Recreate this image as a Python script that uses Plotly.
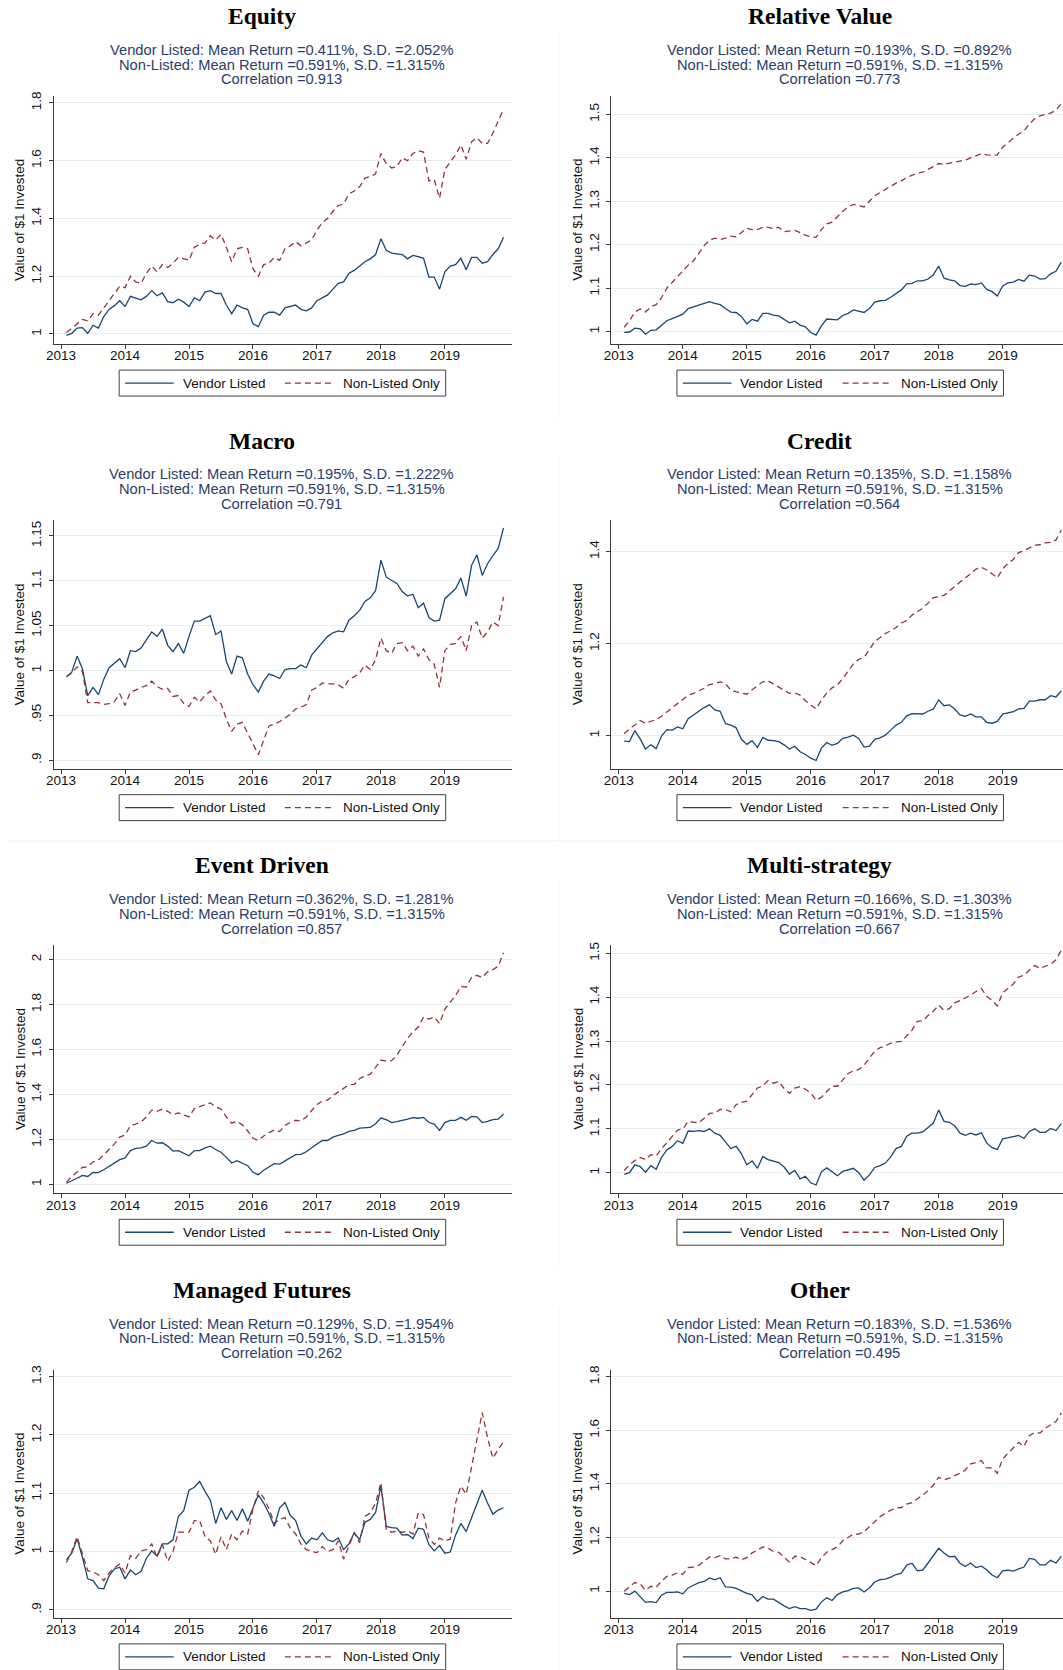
import pandas as pd
import plotly.graph_objects as go

# ---------------------------------------------------------------------------
# Monthly cumulative value of $1, Feb 2013 - Dec 2019
# ---------------------------------------------------------------------------
months = pd.date_range("2013-02-01", "2019-12-01", freq="MS")
x_years = list(months.year + (months.month - 1) / 12)

strategies = ["Equity", "Relative Value", "Macro", "Credit",
              "Event Driven", "Multi-strategy", "Managed Futures", "Other"]
vendor_mean = [0.411, 0.193, 0.195, 0.135, 0.362, 0.166, 0.129, 0.183]
vendor_sd = [2.052, 0.892, 1.222, 1.158, 1.281, 1.303, 1.954, 1.536]
nonlisted_mean = 0.591
nonlisted_sd = 1.315
correlation = [0.913, 0.773, 0.791, 0.564, 0.857, 0.667, 0.262, 0.495]
series_names = ["Vendor Listed", "Non-Listed Only"]

equity_vendor = [
    0.995, 1.002, 1.020, 1.022, 1.002, 1.030, 1.020, 1.060, 1.085, 1.098, 1.115,
    1.095, 1.130, 1.125, 1.118, 1.130, 1.150, 1.132, 1.142, 1.112, 1.108, 1.120, 1.110,
    1.095, 1.125, 1.115, 1.145, 1.150, 1.140, 1.140, 1.100, 1.070, 1.100, 1.090, 1.085,
    1.035, 1.025, 1.065, 1.075, 1.075, 1.065, 1.090, 1.095, 1.100, 1.085, 1.080, 1.090,
    1.115, 1.125, 1.135, 1.155, 1.175, 1.180, 1.210, 1.220, 1.235, 1.250, 1.260, 1.275,
    1.330, 1.290, 1.280, 1.278, 1.275, 1.260, 1.272, 1.268, 1.262, 1.197, 1.197, 1.155,
    1.215, 1.235, 1.240, 1.262, 1.222, 1.265, 1.265, 1.245, 1.250, 1.275, 1.295, 1.335]
equity_nonlisted = [
    1.005, 1.020, 1.035, 1.050, 1.045, 1.070, 1.065, 1.090, 1.115, 1.140, 1.165,
    1.160, 1.200, 1.180, 1.175, 1.210, 1.235, 1.215, 1.240, 1.230, 1.245, 1.265, 1.260,
    1.255, 1.300, 1.310, 1.315, 1.340, 1.325, 1.345, 1.300, 1.250, 1.295, 1.300, 1.295,
    1.225, 1.200, 1.240, 1.245, 1.265, 1.255, 1.295, 1.305, 1.320, 1.305, 1.315, 1.325,
    1.360, 1.385, 1.400, 1.425, 1.445, 1.450, 1.485, 1.495, 1.510, 1.540, 1.545, 1.555,
    1.625, 1.590, 1.575, 1.580, 1.610, 1.600, 1.625, 1.635, 1.630, 1.530, 1.535, 1.470,
    1.570, 1.595, 1.620, 1.655, 1.605, 1.665, 1.680, 1.660, 1.660, 1.695, 1.740, 1.780]

relval_vendor = [
    0.998, 0.999, 1.008, 1.006, 0.994, 1.003, 1.004, 1.015, 1.025, 1.030, 1.035,
    1.040, 1.053, 1.057, 1.061, 1.065, 1.069, 1.065, 1.062, 1.053, 1.045, 1.044, 1.035,
    1.018, 1.028, 1.024, 1.042, 1.042, 1.038, 1.036, 1.029, 1.020, 1.024, 1.015, 1.011,
    0.998, 0.992, 1.013, 1.029, 1.028, 1.027, 1.037, 1.042, 1.050, 1.047, 1.044, 1.053,
    1.068, 1.071, 1.072, 1.079, 1.088, 1.096, 1.110, 1.111, 1.117, 1.117, 1.121, 1.131,
    1.151, 1.123, 1.119, 1.117, 1.106, 1.104, 1.110, 1.108, 1.112, 1.097, 1.092, 1.082,
    1.105, 1.112, 1.114, 1.120, 1.116, 1.130, 1.128, 1.121, 1.122, 1.133, 1.139, 1.160]
relval_nonlisted = [
    1.010, 1.025, 1.045, 1.052, 1.045, 1.057, 1.062, 1.078, 1.100, 1.113, 1.125,
    1.140, 1.153, 1.163, 1.180, 1.198, 1.210, 1.215, 1.212, 1.215, 1.220, 1.218, 1.228,
    1.238, 1.235, 1.235, 1.240, 1.240, 1.237, 1.240, 1.230, 1.232, 1.233, 1.228, 1.222,
    1.218, 1.217, 1.235, 1.248, 1.252, 1.265, 1.277, 1.287, 1.293, 1.290, 1.287, 1.300,
    1.313, 1.320, 1.327, 1.335, 1.342, 1.347, 1.355, 1.360, 1.365, 1.367, 1.373, 1.380,
    1.387, 1.385, 1.388, 1.390, 1.393, 1.395, 1.400, 1.405, 1.410, 1.407, 1.406, 1.407,
    1.425, 1.435, 1.445, 1.455, 1.462, 1.478, 1.490, 1.497, 1.500, 1.503, 1.510, 1.525]

macro_vendor = [
    0.993, 0.998, 1.016, 1.002, 0.972, 0.981, 0.973, 0.990, 1.003, 1.008, 1.013,
    1.003, 1.022, 1.021, 1.025, 1.034, 1.043, 1.038, 1.046, 1.028, 1.021, 1.030, 1.019,
    1.038, 1.055, 1.055, 1.058, 1.061, 1.040, 1.044, 1.010, 0.996, 1.016, 1.014, 0.996,
    0.984, 0.976, 0.988, 0.996, 0.994, 0.991, 1.001, 1.002, 1.002, 1.006, 1.003, 1.017,
    1.024, 1.031, 1.038, 1.042, 1.044, 1.043, 1.056, 1.061, 1.067, 1.077, 1.081, 1.089,
    1.123, 1.104, 1.100, 1.097, 1.088, 1.083, 1.085, 1.070, 1.075, 1.059, 1.055, 1.056,
    1.080, 1.086, 1.091, 1.103, 1.083, 1.117, 1.129, 1.106, 1.119, 1.128, 1.136, 1.159]
macro_nonlisted = [
    0.993, 0.997, 1.004, 0.999, 0.964, 0.964, 0.964, 0.962, 0.963, 0.965, 0.974,
    0.961, 0.976, 0.978, 0.981, 0.983, 0.988, 0.982, 0.979, 0.980, 0.971, 0.972, 0.963,
    0.960, 0.970, 0.965, 0.972, 0.977, 0.967, 0.963, 0.946, 0.932, 0.940, 0.942, 0.930,
    0.918, 0.906, 0.922, 0.938, 0.940, 0.943, 0.947, 0.951, 0.957, 0.959, 0.962, 0.978,
    0.981, 0.986, 0.985, 0.985, 0.984, 0.980, 0.990, 0.993, 0.997, 1.006, 1.001, 1.012,
    1.036, 1.022, 1.019, 1.030, 1.031, 1.022, 1.027, 1.016, 1.024, 1.012, 1.007, 0.981,
    1.022, 1.029, 1.030, 1.038, 1.022, 1.050, 1.054, 1.036, 1.043, 1.054, 1.050, 1.082]

credit_vendor = [
    0.988, 0.987, 1.011, 0.993, 0.971, 0.980, 0.972, 0.999, 1.013, 1.012, 1.019,
    1.015, 1.037, 1.045, 1.054, 1.061, 1.067, 1.056, 1.053, 1.026, 1.023, 1.017, 0.992,
    0.981, 0.989, 0.974, 0.996, 0.990, 0.989, 0.987, 0.980, 0.971, 0.977, 0.965, 0.959,
    0.951, 0.946, 0.973, 0.985, 0.979, 0.983, 0.994, 0.997, 1.001, 0.994, 0.975, 0.977,
    0.992, 0.995, 1.001, 1.012, 1.023, 1.029, 1.043, 1.048, 1.048, 1.047, 1.053, 1.058,
    1.078, 1.065, 1.067, 1.058, 1.045, 1.042, 1.047, 1.041, 1.041, 1.029, 1.027, 1.031,
    1.047, 1.049, 1.052, 1.058, 1.059, 1.075, 1.075, 1.078, 1.078, 1.087, 1.084, 1.097]
credit_nonlisted = [
    1.004, 1.015, 1.023, 1.033, 1.027, 1.031, 1.035, 1.042, 1.051, 1.060, 1.068,
    1.078, 1.088, 1.092, 1.097, 1.103, 1.111, 1.113, 1.117, 1.113, 1.099, 1.095, 1.093,
    1.090, 1.100, 1.109, 1.117, 1.119, 1.112, 1.105, 1.098, 1.092, 1.093, 1.088, 1.076,
    1.066, 1.058, 1.077, 1.093, 1.104, 1.110, 1.124, 1.140, 1.156, 1.166, 1.170, 1.187,
    1.205, 1.213, 1.222, 1.228, 1.235, 1.245, 1.250, 1.262, 1.270, 1.277, 1.288, 1.300,
    1.302, 1.305, 1.315, 1.325, 1.334, 1.343, 1.352, 1.362, 1.366, 1.360, 1.352, 1.343,
    1.362, 1.375, 1.383, 1.398, 1.402, 1.408, 1.414, 1.415, 1.419, 1.420, 1.425, 1.447]

event_vendor = [
    1.005, 1.015, 1.027, 1.040, 1.035, 1.053, 1.052, 1.065, 1.080, 1.095, 1.110,
    1.118, 1.150, 1.160, 1.162, 1.170, 1.195, 1.183, 1.185, 1.170, 1.148, 1.150, 1.140,
    1.127, 1.150, 1.150, 1.162, 1.170, 1.155, 1.143, 1.120, 1.095, 1.105, 1.093, 1.083,
    1.054, 1.043, 1.063, 1.078, 1.092, 1.090, 1.104, 1.120, 1.132, 1.133, 1.145, 1.163,
    1.180, 1.195, 1.195, 1.210, 1.218, 1.225, 1.236, 1.240, 1.250, 1.253, 1.253, 1.270,
    1.295, 1.288, 1.275, 1.279, 1.283, 1.290, 1.297, 1.294, 1.298, 1.275, 1.268, 1.240,
    1.275, 1.285, 1.285, 1.298, 1.285, 1.302, 1.300, 1.275, 1.280, 1.288, 1.290, 1.313]
event_nonlisted = [
    1.010, 1.035, 1.055, 1.075, 1.078, 1.100, 1.108, 1.130, 1.155, 1.180, 1.210,
    1.220, 1.260, 1.268, 1.278, 1.300, 1.330, 1.325, 1.335, 1.325, 1.310, 1.318, 1.310,
    1.300, 1.337, 1.345, 1.352, 1.362, 1.345, 1.335, 1.300, 1.272, 1.280, 1.265, 1.238,
    1.205, 1.195, 1.215, 1.230, 1.242, 1.235, 1.262, 1.275, 1.285, 1.282, 1.300, 1.328,
    1.355, 1.370, 1.375, 1.395, 1.410, 1.425, 1.443, 1.445, 1.470, 1.483, 1.490, 1.520,
    1.553, 1.548, 1.550, 1.575, 1.610, 1.650, 1.678, 1.700, 1.745, 1.735, 1.745, 1.715,
    1.780, 1.810, 1.840, 1.880, 1.878, 1.920, 1.930, 1.920, 1.945, 1.955, 1.970, 2.030]

multi_vendor = [
    0.996, 1.000, 1.018, 1.014, 1.001, 1.016, 1.008, 1.035, 1.052, 1.060, 1.073,
    1.067, 1.095, 1.094, 1.096, 1.094, 1.100, 1.090, 1.085, 1.070, 1.055, 1.060, 1.043,
    1.018, 1.027, 1.010, 1.037, 1.030, 1.027, 1.023, 1.013, 0.997, 1.005, 0.986, 0.992,
    0.977, 0.972, 1.002, 1.011, 1.001, 0.993, 1.003, 1.007, 1.010, 1.000, 0.983, 0.995,
    1.012, 1.016, 1.022, 1.036, 1.055, 1.060, 1.083, 1.090, 1.090, 1.093, 1.102, 1.113,
    1.143, 1.117, 1.115, 1.107, 1.090, 1.085, 1.090, 1.086, 1.091, 1.068, 1.057, 1.053,
    1.077, 1.080, 1.082, 1.085, 1.078, 1.094, 1.100, 1.092, 1.092, 1.101, 1.096, 1.112]
multi_nonlisted = [
    1.005, 1.018, 1.028, 1.035, 1.030, 1.041, 1.038, 1.055, 1.068, 1.083, 1.097,
    1.100, 1.117, 1.115, 1.114, 1.124, 1.135, 1.136, 1.144, 1.144, 1.139, 1.155, 1.160,
    1.163, 1.178, 1.193, 1.198, 1.210, 1.204, 1.208, 1.192, 1.181, 1.193, 1.196, 1.190,
    1.182, 1.165, 1.172, 1.185, 1.197, 1.197, 1.212, 1.226, 1.232, 1.235, 1.245, 1.260,
    1.277, 1.285, 1.289, 1.295, 1.298, 1.299, 1.312, 1.325, 1.345, 1.346, 1.358, 1.368,
    1.382, 1.370, 1.374, 1.387, 1.392, 1.398, 1.405, 1.413, 1.420, 1.402, 1.393, 1.380,
    1.410, 1.420, 1.430, 1.446, 1.450, 1.462, 1.472, 1.466, 1.470, 1.475, 1.485, 1.507]

futures_vendor = [
    0.986, 0.997, 1.022, 0.990, 0.953, 0.950, 0.937, 0.936, 0.958, 0.970, 0.973,
    0.953, 0.968, 0.960, 0.966, 0.988, 1.001, 0.992, 1.013, 1.013, 1.020, 1.060, 1.070,
    1.105, 1.110, 1.120, 1.103, 1.088, 1.048, 1.075, 1.055, 1.070, 1.053, 1.073, 1.052,
    1.075, 1.097, 1.083, 1.065, 1.043, 1.075, 1.084, 1.062, 1.053, 1.026, 1.013, 1.023,
    1.020, 1.032, 1.020, 1.017, 1.023, 1.003, 1.013, 1.032, 1.020, 1.050, 1.055, 1.067,
    1.112, 1.043, 1.041, 1.040, 1.028, 1.029, 1.022, 1.040, 1.038, 1.012, 1.001, 1.010,
    0.997, 0.999, 1.028, 1.048, 1.034, 1.057, 1.082, 1.105, 1.083, 1.064, 1.071, 1.075]
futures_nonlisted = [
    0.981, 1.000, 1.025, 0.995, 0.967, 0.965, 0.960, 0.950, 0.963, 0.972, 0.978,
    0.963, 0.993, 0.988, 1.001, 1.003, 1.013, 0.990, 1.012, 0.983, 1.000, 1.033, 1.033,
    1.033, 1.053, 1.053, 1.025, 1.018, 0.995, 1.025, 1.003, 1.030, 1.020, 1.035, 1.030,
    1.073, 1.104, 1.092, 1.073, 1.048, 1.055, 1.058, 1.040, 1.030, 1.013, 1.003, 1.000,
    0.998, 1.008, 1.000, 1.003, 1.018, 0.987, 1.008, 1.032, 1.015, 1.060, 1.066, 1.083,
    1.118, 1.037, 1.033, 1.035, 1.033, 1.035, 1.030, 1.066, 1.063, 1.023, 1.012, 1.023,
    1.018, 1.021, 1.083, 1.112, 1.098, 1.147, 1.195, 1.238, 1.195, 1.160, 1.175, 1.188]

other_vendor = [
    0.992, 0.987, 1.000, 0.978, 0.958, 0.961, 0.957, 0.985, 0.995, 0.995, 0.997,
    0.990, 1.012, 1.022, 1.032, 1.036, 1.049, 1.042, 1.050, 1.016, 1.015, 1.010, 1.000,
    0.992, 0.986, 0.962, 0.980, 0.970, 0.970, 0.957, 0.945, 0.935, 0.942, 0.935, 0.935,
    0.928, 0.933, 0.960, 0.975, 0.965, 0.987, 0.997, 1.002, 1.010, 1.012, 0.997, 1.012,
    1.034, 1.043, 1.045, 1.052, 1.062, 1.067, 1.097, 1.104, 1.076, 1.078, 1.105, 1.132,
    1.160, 1.142, 1.128, 1.130, 1.104, 1.092, 1.105, 1.088, 1.093, 1.080, 1.060, 1.050,
    1.076, 1.078, 1.075, 1.083, 1.090, 1.122, 1.119, 1.098, 1.098, 1.115, 1.105, 1.130]
other_nonlisted = [
    1.000, 1.015, 1.032, 1.027, 1.003, 1.018, 1.014, 1.038, 1.055, 1.060, 1.068,
    1.063, 1.088, 1.090, 1.097, 1.110, 1.128, 1.125, 1.132, 1.120, 1.120, 1.127, 1.117,
    1.125, 1.143, 1.153, 1.165, 1.160, 1.148, 1.145, 1.125, 1.108, 1.130, 1.128, 1.118,
    1.105, 1.095, 1.125, 1.145, 1.155, 1.165, 1.188, 1.200, 1.213, 1.213, 1.222, 1.240,
    1.260, 1.278, 1.290, 1.302, 1.310, 1.312, 1.325, 1.330, 1.345, 1.358, 1.375, 1.395,
    1.425, 1.415, 1.422, 1.430, 1.440, 1.452, 1.475, 1.480, 1.487, 1.460, 1.460, 1.440,
    1.493, 1.515, 1.535, 1.555, 1.540, 1.580, 1.592, 1.590, 1.608, 1.620, 1.633, 1.665]

vendor_series = [equity_vendor, relval_vendor, macro_vendor, credit_vendor,
                 event_vendor, multi_vendor, futures_vendor, other_vendor]
nonlisted_series = [equity_nonlisted, relval_nonlisted, macro_nonlisted, credit_nonlisted,
                    event_nonlisted, multi_nonlisted, futures_nonlisted, other_nonlisted]

# y-axis ticks (values and labels) for each panel
y_tickvals = [
    [1.0, 1.2, 1.4, 1.6, 1.8],
    [1.0, 1.1, 1.2, 1.3, 1.4, 1.5],
    [0.9, 0.95, 1.0, 1.05, 1.1, 1.15],
    [1.0, 1.2, 1.4],
    [1.0, 1.2, 1.4, 1.6, 1.8, 2.0],
    [1.0, 1.1, 1.2, 1.3, 1.4, 1.5],
    [0.9, 1.0, 1.1, 1.2, 1.3],
    [1.0, 1.2, 1.4, 1.6, 1.8],
]
y_ticktext = [
    ["1", "1.2", "1.4", "1.6", "1.8"],
    ["1", "1.1", "1.2", "1.3", "1.4", "1.5"],
    [".9", ".95", "1", "1.05", "1.1", "1.15"],
    ["1", "1.2", "1.4"],
    ["1", "1.2", "1.4", "1.6", "1.8", "2"],
    ["1", "1.1", "1.2", "1.3", "1.4", "1.5"],
    [".9", "1", "1.1", "1.2", "1.3"],
    ["1", "1.2", "1.4", "1.6", "1.8"],
]
y_ranges = [
    [0.9644, 1.825], [0.971, 1.543], [0.8903, 1.1674], [0.928, 1.468],
    [0.960, 2.065], [0.953, 1.519], [0.886, 1.312], [0.900, 1.827],
]
year_ticks = [2013, 2014, 2015, 2016, 2017, 2018, 2019]

# ---------------------------------------------------------------------------
# Styling / geometry (pixels in a 1063 x 1670 page)
# ---------------------------------------------------------------------------
W, H = 1063, 1670
SANS = "Liberation Sans, Arial, sans-serif"
SERIF = "Liberation Serif, Times New Roman, serif"
BLUE = "#1a476f"
RED = "#90353b"
NOTE = "#2b3d6c"
AXIS = "#3a3a3a"
GRID = "#e6eeee"
RED_DASH = "6px,4px"

ROW_STEP = 425.6
COL_X = [-4, 558]   # horizontal placement of the left / right column
PX_PER_YEAR = 64.45


def px(xp):
    return xp / W


def py(yp):
    return 1 - yp / H


fig = go.Figure()
annotations = []
shapes = []
layout = {}

for i, name in enumerate(strategies):
    r, c = divmod(i, 2)
    base = 16 + ROW_STEP * r
    off = COL_X[c]
    left_px = 50 + off
    right_px = min(512 + off, W)
    x2013_px = 57.5 + off
    top_px, bot_px = base + 76, base + 325
    center_px = 280 + off

    n = i + 1
    xa = "x" if n == 1 else f"x{n}"
    ya = "y" if n == 1 else f"y{n}"

    fig.add_trace(go.Scatter(
        x=x_years, y=vendor_series[i], mode="lines", name=series_names[0],
        line=dict(color=BLUE, width=1.3), xaxis=xa, yaxis=ya,
        showlegend=False, hoverinfo="skip"))
    fig.add_trace(go.Scatter(
        x=x_years, y=nonlisted_series[i], mode="lines", name=series_names[1],
        line=dict(color=RED, width=1.3, dash=RED_DASH), xaxis=xa, yaxis=ya,
        showlegend=False, hoverinfo="skip"))

    x_lo = 2013 - (x2013_px - left_px) / PX_PER_YEAR
    x_hi = 2013 + (right_px - x2013_px) / PX_PER_YEAR

    layout["xaxis" if n == 1 else f"xaxis{n}"] = dict(
        domain=[px(left_px), px(right_px)], anchor=ya, range=[x_lo, x_hi],
        tickvals=year_ticks, ticktext=[str(v) for v in year_ticks],
        showgrid=False, zeroline=False, showline=True, linecolor=AXIS,
        linewidth=1, ticks="outside", ticklen=4, tickcolor=AXIS,
        ticklabelstandoff=-5,
        tickfont=dict(family=SANS, size=13.5, color="#111"), fixedrange=True)
    layout["yaxis" if n == 1 else f"yaxis{n}"] = dict(
        domain=[py(bot_px), py(top_px)], anchor=xa, range=y_ranges[i],
        tickvals=y_tickvals[i], ticktext=y_ticktext[i], tickangle=-90,
        showgrid=True, gridcolor=GRID, gridwidth=1, zeroline=False,
        showline=True, linecolor=AXIS, linewidth=1, ticks="outside",
        ticklen=4, tickcolor=AXIS, ticklabelstandoff=2,
        tickfont=dict(family=SANS, size=13.5, color="#111"), fixedrange=True)

    # panel title
    annotations.append(dict(
        text=f"<b>{name}</b>", x=px(260 + off), y=py(base - 4), xref="paper",
        yref="paper", xanchor="center", yanchor="middle", showarrow=False,
        font=dict(family=SERIF, size=23.5, color="black")))
    # summary statistics
    stat_lines = [
        f"Vendor Listed: Mean Return ={vendor_mean[i]:.3f}%, S.D. ={vendor_sd[i]:.3f}%",
        f"Non-Listed: Mean Return ={nonlisted_mean:.3f}%, S.D. ={nonlisted_sd:.3f}%",
        f"Correlation ={correlation[i]:.3f}",
    ]
    for k, line in enumerate(stat_lines):
        annotations.append(dict(
            text=line, x=px(center_px), y=py(base + 30 + 14.8 * k), xref="paper",
            yref="paper", xanchor="center", yanchor="middle", showarrow=False,
            font=dict(family=SANS, size=14.7, color=NOTE)))
    # y-axis title
    annotations.append(dict(
        text="Value of $1 Invested", x=px(16 + off), y=py((top_px + bot_px) / 2),
        xref="paper", yref="paper", xanchor="center", yanchor="middle",
        textangle=-90, showarrow=False,
        font=dict(family=SANS, size=13.5, color="#111")))

    # legend box below the panel
    lg_top, lg_bot = base + 351, base + 377
    lg_mid = (lg_top + lg_bot) / 2
    lg_left, lg_right = 116 + off, 445 + off
    shapes.append(dict(type="rect", xref="paper", yref="paper",
                       x0=px(lg_left), x1=px(min(lg_right, W - 0.5)),
                       y0=py(lg_bot), y1=py(lg_top),
                       line=dict(color="#404040", width=1), fillcolor="white"))
    for (x0, x1, tx), color, dash, label in zip(
            [(122, 171, 178), (283, 333, 340)], [BLUE, RED],
            ["solid", RED_DASH], series_names):
        shapes.append(dict(type="line", xref="paper", yref="paper",
                           x0=px(x0 + off), x1=px(x1 + off),
                           y0=py(lg_mid), y1=py(lg_mid),
                           line=dict(color=color, width=1.4, dash=dash)))
        annotations.append(dict(
            text=label, x=px(tx + off), y=py(lg_mid), xref="paper",
            yref="paper", xanchor="left", yanchor="middle", showarrow=False,
            font=dict(family=SANS, size=13.5, color="#111")))

# faint outlines of the combined graph regions
for y0, y1 in [(29, 414), (455, 839), (880, 1265), (1307, 1670)]:
    shapes.append(dict(type="line", xref="paper", yref="paper",
                       x0=px(555), x1=px(555), y0=py(y0), y1=py(y1),
                       line=dict(color="#eef3f3", width=1), layer="below"))
shapes.append(dict(type="line", xref="paper", yref="paper",
                   x0=0, x1=1, y0=py(839), y1=py(839),
                   line=dict(color="#eef3f3", width=1), layer="below"))

fig.update_layout(
    width=W, height=H, margin=dict(l=0, r=0, t=0, b=0),
    paper_bgcolor="white", plot_bgcolor="white",
    annotations=annotations, shapes=shapes, showlegend=False,
    **layout)

# the page body gets no default margin so the figure sits at the top-left corner
fig.write_html("out.html", include_plotlyjs=True,
               config={"displayModeBar": False},
               post_script="document.body.style.margin='0px';")
